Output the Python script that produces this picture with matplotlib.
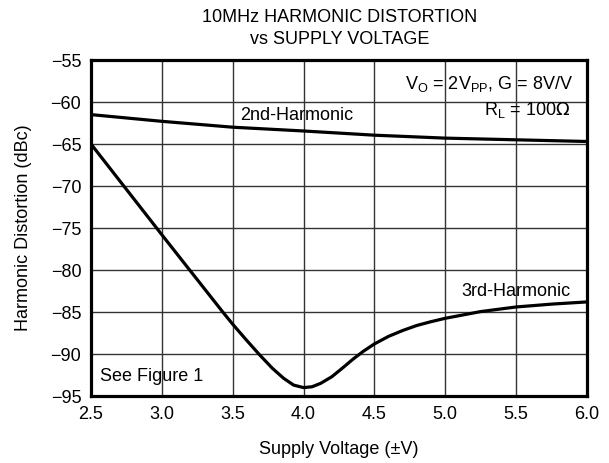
import matplotlib
matplotlib.use("Agg")
import matplotlib.pyplot as plt

plt.rcParams['font.family'] = ['Liberation Sans', 'DejaVu Sans']

# supply voltage (±V) and distortion (dBc)
v_2nd = [2.5, 3.0, 3.5, 4.0, 4.5, 5.0, 5.5, 6.0]
hd_2nd = [-61.5, -62.3, -63.0, -63.45, -63.95, -64.3, -64.5, -64.7]

v_3rd = [2.5, 3.0, 3.43, 3.5, 3.6, 3.69, 3.78, 3.86, 3.93, 4.0, 4.06, 4.12,
         4.2, 4.28, 4.35, 4.42, 4.5, 4.6, 4.7, 4.8, 4.9, 5.0, 5.25, 5.5,
         5.76, 6.0]
hd_3rd = [-65.0, -75.8, -85.0, -86.45, -88.4, -90.1, -91.7, -92.9, -93.7,
          -94.0, -93.9, -93.5, -92.7, -91.6, -90.6, -89.7, -88.8, -87.9,
          -87.2, -86.6, -86.15, -85.75, -84.95, -84.4, -84.05, -83.8]

xticks = [2.5, 3.0, 3.5, 4.0, 4.5, 5.0, 5.5, 6.0]
yticks = [-55, -60, -65, -70, -75, -80, -85, -90, -95]

fig = plt.figure(figsize=(6.09, 4.63), dpi=100)
ax = fig.add_axes([0.1494, 0.1447, 0.8144, 0.7257])

ax.plot(v_2nd, hd_2nd, color='black', lw=2.3, solid_capstyle='butt')
ax.plot(v_3rd, hd_3rd, color='black', lw=2.3, solid_capstyle='butt',
        solid_joinstyle='round')

ax.set_xlim(2.5, 6.0)
ax.set_ylim(-95, -55)
ax.set_xticks(xticks)
ax.set_xticklabels(['%.1f' % t for t in xticks])
ax.set_yticks(yticks)
ax.set_yticklabels(['\u2212%d' % abs(t) for t in yticks])
ax.tick_params(length=0, labelsize=13, pad=7)
ax.grid(True, color='#333333', lw=1.0)
for s in ax.spines.values():
    s.set_linewidth(2.3)

ax.text(3.95, -61.6, '2nd-Harmonic', fontsize=13, ha='center', va='center')
ax.text(5.5, -82.6, '3rd-Harmonic', fontsize=13, ha='center', va='center')
ax.text(2.565, -92.7, 'See Figure 1', fontsize=13, ha='left', va='center')
ax.text(5.9, -57.8, r'V$_\mathregular{O}$ = 2V$_\mathregular{PP}$, G = 8V/V',
        fontsize=13, ha='right', va='center')
ax.text(5.88, -60.95, r'R$_\mathregular{L}$ = 100$\Omega$', fontsize=13,
        ha='right', va='center')

ax.set_xlabel('Supply Voltage (\u00b1V)', fontsize=13, labelpad=13)
ax.set_ylabel('Harmonic Distortion (dBc)', fontsize=13, labelpad=13)
fig.text(0.558, 0.9385, '10MHz HARMONIC DISTORTION\nvs SUPPLY VOLTAGE',
         ha='center', va='center', fontsize=13, linespacing=1.35)

fig.savefig('out.png', dpi=100)
